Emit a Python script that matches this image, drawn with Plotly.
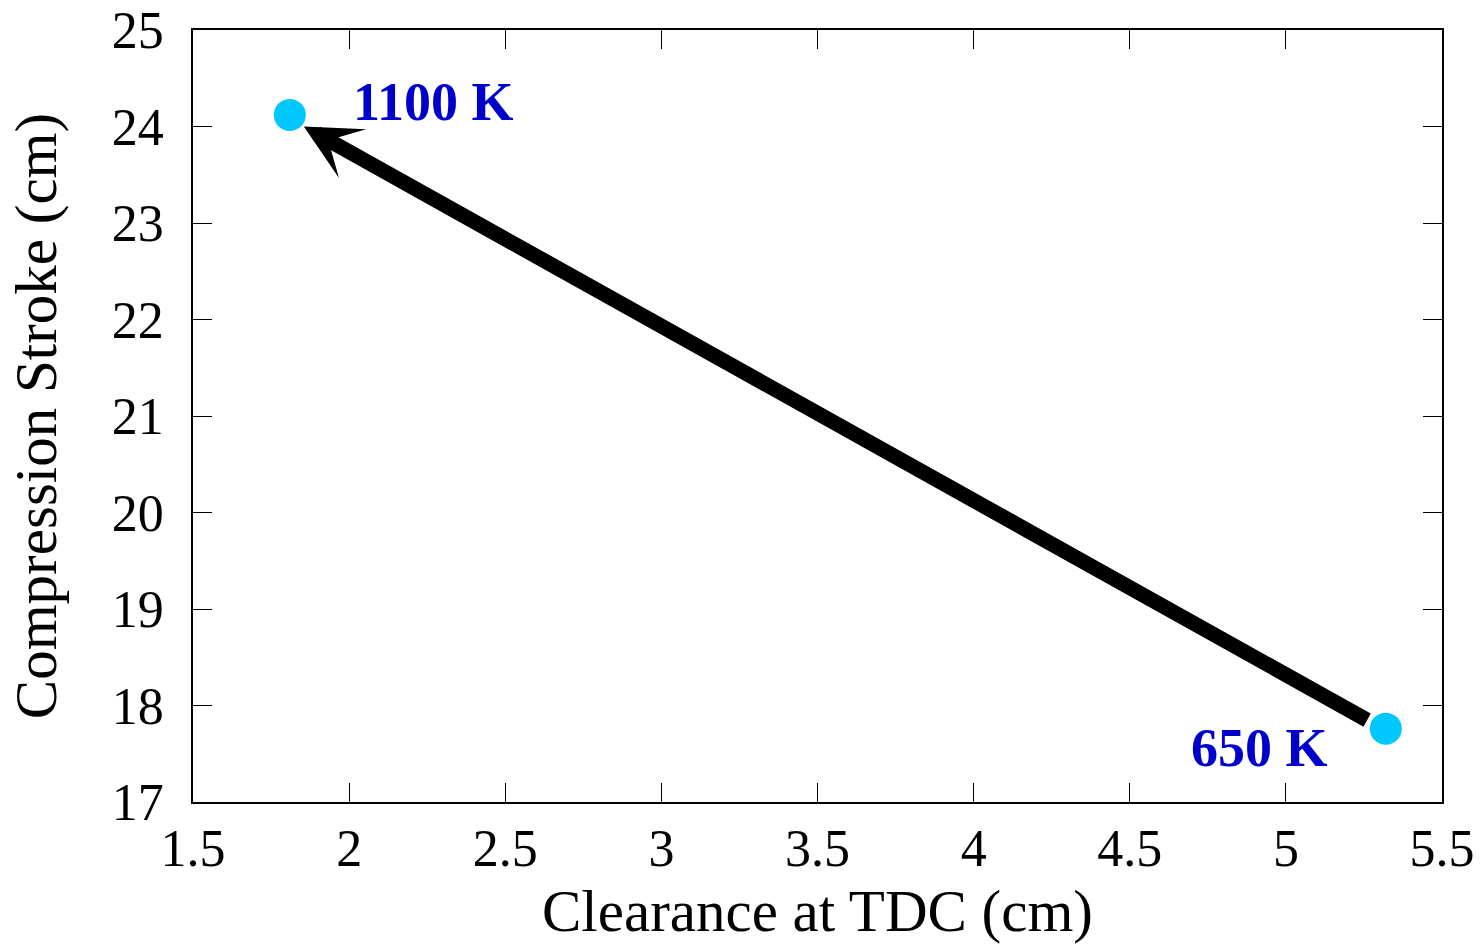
import plotly.graph_objects as go

# End states of the compression sweep
clearance_cm = [1.81, 5.32]
stroke_cm = [24.12, 17.76]
state_labels = ["1100 K", "650 K"]
label_x = [2.27, 4.915]
label_y = [24.25, 17.56]

# Arrow from the low-temperature state toward the high-temperature state
arrow_tail = (5.265, 17.84)
arrow_tip = (1.855, 24.0)

x_ticks = [1.5, 2, 2.5, 3, 3.5, 4, 4.5, 5, 5.5]
y_ticks = [17, 18, 19, 20, 21, 22, 23, 24, 25]

FONT = "Liberation Serif"

fig = go.Figure()
fig.add_trace(go.Scatter(
    x=clearance_cm, y=stroke_cm, mode="markers",
    marker=dict(size=32, color="#00C8FF"),
    showlegend=False, hoverinfo="skip",
))

fig.add_annotation(
    x=arrow_tip[0], y=arrow_tip[1], ax=arrow_tail[0], ay=arrow_tail[1],
    xref="x", yref="y", axref="x", ayref="y",
    text="", showarrow=True, arrowhead=3, arrowsize=0.62,
    arrowwidth=15, arrowcolor="black",
)

for t, lx, ly in zip(state_labels, label_x, label_y):
    fig.add_annotation(
        x=lx, y=ly, xref="x", yref="y", text="<b>" + t + "</b>",
        showarrow=False, font=dict(family=FONT, size=54, color="#0000CC"),
    )

axis_common = dict(
    showline=True, linecolor="black", linewidth=1.5, mirror="ticks",
    ticks="inside", ticklen=19, tickwidth=1.2, tickcolor="black",
    showgrid=False, zeroline=False, automargin=False,
    tickfont=dict(family=FONT, size=52, color="black"),
    title_font=dict(family=FONT, size=59, color="black"),
)

fig.update_xaxes(
    range=[1.5, 5.5], tickvals=x_ticks, ticktext=[f"{v:g}" for v in x_ticks],
    title_text="Clearance at TDC (cm)", title_standoff=20, ticklabelstandoff=0,
    **axis_common,
)
fig.update_yaxes(
    range=[17, 25], tickvals=y_ticks, ticktext=[str(v) for v in y_ticks],
    title_text="Compression Stroke (cm)", title_standoff=36, ticklabelstandoff=17,
    **axis_common,
)

fig.update_layout(
    width=1482, height=944,
    margin=dict(l=193, r=40, t=30, b=142),
    plot_bgcolor="white", paper_bgcolor="white",
)

fig.write_html("out.html")
